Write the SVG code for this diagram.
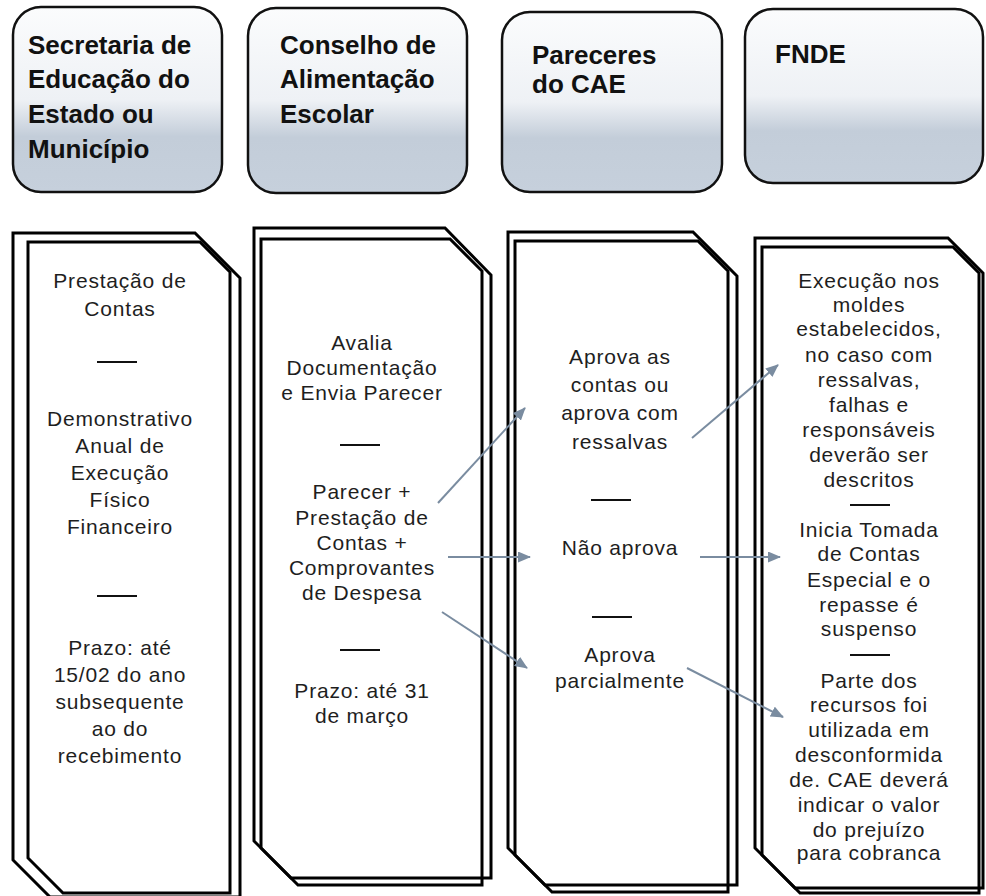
<svg xmlns="http://www.w3.org/2000/svg" width="986" height="896" viewBox="0 0 986 896">
<defs>
<linearGradient id="hg" x1="0" y1="0" x2="0" y2="1">
<stop offset="0" stop-color="#fbfcfd"/>
<stop offset="0.5" stop-color="#eef1f5"/>
<stop offset="0.7" stop-color="#c3cdd9"/>
<stop offset="1" stop-color="#c6d0dc"/>
</linearGradient>
<marker id="ah" markerWidth="13" markerHeight="11" refX="12" refY="5.5" orient="auto" markerUnits="userSpaceOnUse">
<path d="M0,0 L13,5.5 L0,11 Z" fill="#7a8ca0"/>
</marker>
</defs>
<style>
.hd{fill:url(#hg);stroke:#111;stroke-width:2.5}
.ht{font-family:"Liberation Sans",Arial,sans-serif;font-weight:bold;font-size:26px;fill:#111}
.sh{fill:none;stroke:#000;stroke-width:3;stroke-linejoin:miter}
.bt{font-family:"Liberation Sans",Arial,sans-serif;font-size:21px;fill:#1e1e1e;text-anchor:middle;letter-spacing:0.8px}
.sp{stroke:#111;stroke-width:2}
.cn{stroke:#7a8ca0;stroke-width:2;fill:none;marker-end:url(#ah)}
</style>
<rect width="986" height="896" fill="#fff"/>

<g id="h1">
<rect class="hd" x="13" y="7" width="209" height="185" rx="28"/>
<text class="ht"><tspan x="28" y="54">Secretaria de</tspan><tspan x="28" y="88">Educação do</tspan><tspan x="28" y="123">Estado ou</tspan><tspan x="28" y="158">Município</tspan></text>
</g>
<g id="h2">
<rect class="hd" x="248" y="8" width="219" height="185" rx="28"/>
<text class="ht"><tspan x="280" y="54">Conselho de</tspan><tspan x="280" y="88">Alimentação</tspan><tspan x="280" y="123">Escolar</tspan></text>
</g>
<g id="h3">
<rect class="hd" x="502" y="12" width="220" height="180" rx="28"/>
<text class="ht"><tspan x="532" y="64">Pareceres</tspan><tspan x="532" y="93">do CAE</tspan></text>
</g>
<g id="h4">
<rect class="hd" x="745" y="9" width="238" height="174" rx="28"/>
<text class="ht"><tspan x="775" y="63">FNDE</tspan></text>
</g>

<g id="c1">
<path class="sh" d="M13,233 H195 L240,278 V897 H50 L13,860 Z"/>
<path class="sh" d="M28,242 H200 L230,272 V893 H63 L28,858 Z"/>
<text class="bt"><tspan x="120" y="288">Prestação de</tspan><tspan x="120" y="316">Contas</tspan></text>
<line class="sp" x1="97" y1="362" x2="137" y2="362"/>
<text class="bt"><tspan x="120" y="426">Demonstrativo</tspan><tspan x="120" y="453">Anual de</tspan><tspan x="120" y="480">Execução</tspan><tspan x="120" y="507">Físico</tspan><tspan x="120" y="534">Financeiro</tspan></text>
<line class="sp" x1="97" y1="596" x2="137" y2="596"/>
<text class="bt"><tspan x="120" y="655">Prazo: até</tspan><tspan x="120" y="682">15/02 do ano</tspan><tspan x="120" y="709">subsequente</tspan><tspan x="120" y="736">ao do</tspan><tspan x="120" y="763">recebimento</tspan></text>
</g>

<g id="c2">
<path class="sh" d="M254,228 H445 L491,275 V878 H291 L254,841 Z"/>
<path class="sh" d="M261,239 H450 L482,271 V885 H298 L261,848 Z"/>
<text class="bt"><tspan x="362" y="350">Avalia</tspan><tspan x="362" y="375">Documentação</tspan><tspan x="362" y="400">e Envia Parecer</tspan></text>
<line class="sp" x1="340" y1="445" x2="380" y2="445"/>
<text class="bt"><tspan x="362" y="499">Parecer +</tspan><tspan x="362" y="525">Prestação de</tspan><tspan x="362" y="550">Contas +</tspan><tspan x="362" y="575">Comprovantes</tspan><tspan x="362" y="600">de Despesa</tspan></text>
<line class="sp" x1="340" y1="650" x2="380" y2="650"/>
<text class="bt"><tspan x="362" y="698">Prazo: até 31</tspan><tspan x="362" y="723">de março</tspan></text>
</g>

<g id="c3">
<path class="sh" d="M508,232 H693 L737,276 V885 H545 L508,848 Z"/>
<path class="sh" d="M515,241 H698 L728,271 V892 H552 L515,855 Z"/>
<text class="bt"><tspan x="620" y="364">Aprova as</tspan><tspan x="620" y="392">contas ou</tspan><tspan x="620" y="420">aprova com</tspan><tspan x="620" y="449">ressalvas</tspan></text>
<line class="sp" x1="591" y1="500" x2="631" y2="500"/>
<text class="bt"><tspan x="620" y="555">Não aprova</tspan></text>
<line class="sp" x1="592" y1="617" x2="632" y2="617"/>
<text class="bt"><tspan x="620" y="662">Aprova</tspan><tspan x="620" y="688">parcialmente</tspan></text>
</g>

<g id="c4">
<path class="sh" d="M755,238 H948 L983,273 V888 H795 L755,848 Z"/>
<path class="sh" d="M762,247 H953 L979,273 V893 H800 L762,855 Z"/>
<text class="bt"><tspan x="869" y="288">Execução nos</tspan><tspan x="869" y="312">moldes</tspan><tspan x="869" y="336">estabelecidos,</tspan><tspan x="869" y="362">no caso com</tspan><tspan x="869" y="387">ressalvas,</tspan><tspan x="869" y="412">falhas e</tspan><tspan x="869" y="437">responsáveis</tspan><tspan x="869" y="462">deverão ser</tspan><tspan x="869" y="487">descritos</tspan></text>
<line class="sp" x1="850" y1="505" x2="890" y2="505"/>
<text class="bt"><tspan x="869" y="537">Inicia Tomada</tspan><tspan x="869" y="561">de Contas</tspan><tspan x="869" y="587">Especial e o</tspan><tspan x="869" y="612">repasse é</tspan><tspan x="869" y="636">suspenso</tspan></text>
<line class="sp" x1="850" y1="655" x2="890" y2="655"/>
<text class="bt"><tspan x="869" y="688">Parte dos</tspan><tspan x="869" y="712">recursos foi</tspan><tspan x="869" y="737">utilizada em</tspan><tspan x="869" y="762">desconformida</tspan><tspan x="869" y="787">de. CAE deverá</tspan><tspan x="869" y="812">indicar o valor</tspan><tspan x="869" y="837">do prejuízo</tspan><tspan x="869" y="860">para cobranca</tspan></text>
</g>

<g id="connectors">
<line class="cn" x1="438" y1="503" x2="525" y2="408"/>
<line class="cn" x1="448" y1="557" x2="530" y2="557"/>
<line class="cn" x1="442" y1="612" x2="527" y2="668"/>
<line class="cn" x1="692" y1="438" x2="778" y2="365"/>
<line class="cn" x1="700" y1="557" x2="780" y2="557"/>
<line class="cn" x1="687" y1="668" x2="783" y2="717"/>
</g>
</svg>
